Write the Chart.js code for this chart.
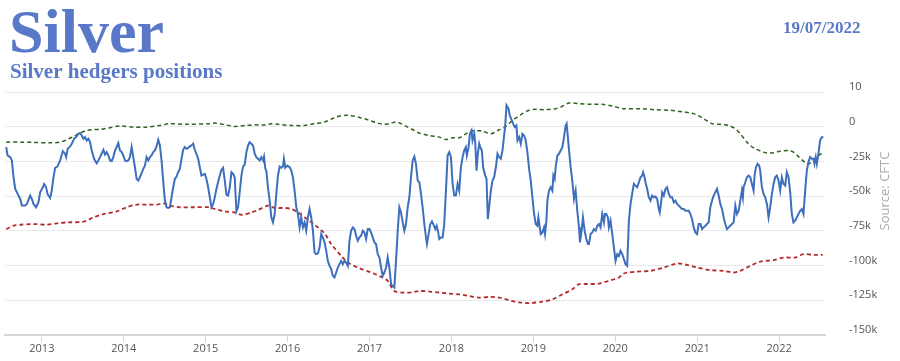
<!DOCTYPE html>
<html>
<head>
<meta charset="utf-8">
<script src="https://cdn.jsdelivr.net/npm/chart.js@4.4.1/dist/chart.umd.min.js"></script>
<style>
body{margin:0;background:#fff;}
</style>
</head>
<body>
<canvas id="myChart" width="900" height="361"></canvas>
<script>

// textos
var titulo = 'Silver';
var subtitulo = 'Silver hedgers positions';
var fecha = '19/07/2022';
var fuente = 'Source: CFTC';

// ejes
var anios = [2013,2014,2015,2016,2017,2018,2019,2020,2021,2022];
var yValores = [-150,-125,-100,-75,-50,-25,0,25];
var yEtiquetas = ['-150k','-125k','-100k','-75k','-50k','-25k','0','10'];

// posicion neta de hedgers (miles de contratos) [año decimal, valor]
var neto = [
[2012.565,-14.7],[2012.581,-20.7],[2012.614,-21.9],[2012.634,-24.3],[2012.654,-36.4],[2012.675,-44.8],[2012.715,-49.6],[2012.736,-52.0],[2012.756,-56.8],[2012.797,-56.8],[2012.817,-55.6],[2012.857,-49.6],[2012.878,-52.0],[2012.898,-55.6],[2012.930,-58.0],[2012.959,-54.4],[2012.979,-47.2],[2013.012,-43.6],[2013.028,-41.2],[2013.052,-43.6],[2013.069,-48.4],[2013.101,-51.3],[2013.121,-46.0],[2013.142,-36.4],[2013.162,-29.6],[2013.190,-28.7],[2013.223,-24.3],[2013.255,-17.6],[2013.284,-19.5],[2013.296,-21.9],[2013.316,-15.9],[2013.345,-14.2],[2013.365,-12.3],[2013.393,-8.7],[2013.418,-7.5],[2013.446,-5.1],[2013.466,-4.6],[2013.487,-6.3],[2013.507,-8.7],[2013.527,-7.5],[2013.548,-9.9],[2013.568,-8.7],[2013.588,-11.1],[2013.609,-17.1],[2013.637,-23.1],[2013.669,-26.3],[2013.690,-24.3],[2013.710,-21.9],[2013.730,-19.5],[2013.751,-16.6],[2013.771,-20.0],[2013.791,-18.3],[2013.812,-20.7],[2013.832,-24.3],[2013.852,-24.8],[2013.872,-21.9],[2013.893,-17.1],[2013.913,-14.7],[2013.933,-11.8],[2013.954,-17.1],[2013.974,-18.3],[2013.994,-20.7],[2014.015,-24.3],[2014.035,-24.8],[2014.055,-24.3],[2014.075,-21.9],[2014.096,-14.7],[2014.116,-21.9],[2014.136,-29.2],[2014.157,-37.6],[2014.177,-38.8],[2014.197,-36.4],[2014.218,-33.5],[2014.238,-30.4],[2014.258,-28.0],[2014.278,-21.9],[2014.299,-24.3],[2014.319,-21.9],[2014.339,-20.7],[2014.360,-18.3],[2014.380,-17.1],[2014.400,-14.2],[2014.421,-9.4],[2014.441,-13.5],[2014.461,-24.3],[2014.481,-38.8],[2014.502,-53.2],[2014.522,-58.0],[2014.542,-58.5],[2014.563,-58.0],[2014.583,-50.8],[2014.603,-43.6],[2014.624,-37.6],[2014.644,-35.9],[2014.664,-32.8],[2014.684,-30.4],[2014.705,-23.1],[2014.725,-16.6],[2014.745,-14.7],[2014.766,-15.9],[2014.786,-15.2],[2014.806,-14.2],[2014.827,-13.5],[2014.847,-12.3],[2014.867,-16.6],[2014.887,-19.5],[2014.908,-23.1],[2014.928,-29.2],[2014.948,-35.2],
[2014.989,-34.0],[2015.009,-37.6],[2015.030,-43.6],[2015.050,-50.8],[2015.070,-58.0],[2015.091,-55.6],[2015.111,-50.8],[2015.131,-44.8],[2015.151,-40.0],[2015.172,-35.2],[2015.192,-31.1],[2015.212,-29.6],[2015.233,-38.8],[2015.253,-48.9],[2015.273,-49.6],[2015.294,-43.6],[2015.314,-32.8],[2015.334,-34.0],[2015.354,-36.4],[2015.375,-60.9],[2015.395,-58.0],[2015.415,-47.2],[2015.436,-35.2],[2015.456,-28.7],[2015.476,-27.2],[2015.497,-18.3],[2015.517,-13.5],[2015.537,-11.1],[2015.557,-12.3],[2015.578,-13.5],[2015.598,-19.5],[2015.618,-21.9],[2015.639,-23.1],[2015.659,-24.3],[2015.679,-21.9],[2015.700,-24.3],[2015.712,-21.5],[2015.728,-30.4],[2015.740,-31.6],[2015.760,-43.6],[2015.781,-53.2],[2015.801,-65.3],[2015.821,-68.9],[2015.842,-62.9],[2015.862,-48.4],[2015.882,-35.2],[2015.903,-28.7],[2015.923,-29.6],[2015.943,-28.7],[2015.955,-23.1],[2015.972,-29.6],[2015.996,-28.0],[2016.024,-29.2],[2016.045,-31.6],[2016.065,-36.4],[2016.085,-46.0],[2016.106,-58.0],[2016.126,-62.9],[2016.146,-72.5],[2016.166,-65.3],[2016.187,-72.5],[2016.207,-68.9],[2016.227,-74.9],[2016.248,-65.3],[2016.268,-59.3],[2016.288,-65.3],[2016.309,-74.9],[2016.329,-90.6],[2016.349,-91.8],[2016.369,-91.3],[2016.390,-87.0],[2016.410,-77.3],[2016.430,-79.7],[2016.451,-83.3],[2016.471,-89.4],[2016.491,-96.6],[2016.512,-100.2],[2016.532,-102.6],[2016.552,-107.4],[2016.572,-108.6],[2016.593,-105.0],[2016.613,-101.4],[2016.633,-99.0],[2016.654,-96.6],[2016.674,-99.0],[2016.694,-96.6],[2016.715,-97.8],[2016.735,-100.2],[2016.755,-82.1],[2016.775,-74.9],[2016.796,-72.5],[2016.816,-73.7],[2016.836,-78.5],[2016.857,-82.1],[2016.877,-79.7],[2016.897,-78.5],[2016.918,-74.9],[2016.938,-76.1],[2016.958,-80.9],[2016.978,-73.7],[2016.999,-73.7],[2017.019,-76.1],[2017.039,-79.7],[2017.060,-83.3],[2017.080,-84.5],[2017.100,-91.8],[2017.121,-94.2],[2017.141,-101.4],[2017.161,-107.4],[2017.181,-105.0],[2017.202,-101.4],[2017.222,-94.2],[2017.242,-101.4],[2017.263,-113.4],[2017.283,-114.6],[2017.303,-115.8],[2017.323,-96.6],[2017.344,-74.9],[2017.364,-58.0],[2017.384,-61.7],[2017.405,-68.9],[2017.425,-74.9],[2017.445,-70.1],[2017.466,-58.0],
[2017.486,-50.8],[2017.506,-36.4],[2017.527,-24.3],[2017.547,-21.5],[2017.567,-26.7],[2017.588,-38.8],[2017.608,-40.0],[2017.628,-48.4],[2017.648,-58.0],[2017.669,-70.1],[2017.689,-79.7],[2017.701,-84.5],[2017.721,-77.3],[2017.742,-70.1],[2017.762,-68.2],[2017.778,-70.1],[2017.803,-73.7],[2017.819,-71.3],[2017.835,-74.9],[2017.851,-80.9],[2017.872,-79.7],[2017.892,-79.7],[2017.912,-70.1],[2017.933,-46.0],[2017.953,-20.7],[2017.973,-18.3],[2017.994,-21.9],[2018.014,-41.2],[2018.034,-49.6],[2018.054,-49.6],[2018.075,-41.2],[2018.095,-46.0],[2018.115,-29.2],[2018.136,-21.9],[2018.156,-17.1],[2018.176,-14.7],[2018.188,-20.7],[2018.209,-14.7],[2018.225,-5.1],[2018.245,-2.7],[2018.257,-9.9],[2018.278,-5.1],[2018.290,-11.1],[2018.306,-31.6],[2018.322,-19.5],[2018.339,-12.3],[2018.351,-14.7],[2018.371,-17.1],[2018.387,-29.2],[2018.412,-35.2],[2018.428,-37.6],[2018.444,-66.5],[2018.460,-58.0],[2018.481,-46.0],[2018.501,-38.8],[2018.521,-36.4],[2018.542,-29.2],[2018.562,-19.5],[2018.582,-21.9],[2018.603,-23.1],[2018.623,-17.1],[2018.643,-6.3],[2018.655,-0.3],[2018.672,15.4],[2018.696,13.0],[2018.712,8.2],[2018.737,4.6],[2018.753,2.2],[2018.773,-0.3],[2018.793,0.9],[2018.806,-9.9],[2018.826,-7.5],[2018.846,-12.3],[2018.866,-5.1],[2018.887,-6.3],[2018.907,-9.9],[2018.927,-18.3],[2018.948,-30.4],[2018.968,-38.8],[2018.988,-50.8],[2019.009,-62.9],[2019.029,-70.1],[2019.049,-71.3],[2019.061,-65.3],[2019.078,-72.5],[2019.090,-77.3],[2019.110,-76.1],[2019.130,-72.5],[2019.142,-77.3],[2019.159,-67.7],[2019.171,-53.2],[2019.191,-46.0],[2019.212,-43.6],[2019.232,-46.0],[2019.244,-35.2],[2019.260,-37.6],[2019.272,-29.2],[2019.293,-20.7],[2019.313,-19.5],[2019.333,-17.1],[2019.354,-14.7],[2019.374,-7.5],[2019.394,0.9],[2019.406,2.2],[2019.423,-8.7],[2019.443,-21.9],[2019.455,-29.2],[2019.475,-38.8],[2019.496,-52.0],[2019.516,-46.0],[2019.536,-60.5],[2019.557,-72.5],[2019.569,-83.3],[2019.589,-74.9],[2019.605,-65.3],[2019.626,-74.9],[2019.646,-80.9],[2019.666,-84.5],[2019.678,-84.5],[2019.699,-77.3],[2019.719,-76.1],[2019.739,-73.7],[2019.760,-74.9],[2019.780,-71.3],[2019.800,-70.1],[2019.820,-72.5],[2019.841,-62.9],[2019.861,-68.9],[2019.873,-62.9],[2019.889,-62.9],[2019.910,-65.3],[2019.922,-72.5],[2019.942,-67.7],[2019.963,-77.3],
[2019.983,-86.9],[2020.003,-96.6],[2020.024,-91.8],[2020.044,-93.0],[2020.064,-89.4],[2020.085,-91.8],[2020.105,-95.4],[2020.125,-99.0],[2020.145,-100.2],[2020.166,-67.7],[2020.186,-55.6],[2020.206,-48.4],[2020.227,-41.2],[2020.247,-42.4],[2020.267,-43.6],[2020.288,-40.0],[2020.308,-36.4],[2020.328,-35.2],[2020.340,-32.8],[2020.357,-36.4],[2020.369,-40.0],[2020.389,-44.8],[2020.409,-50.8],[2020.430,-53.2],[2020.450,-49.6],[2020.470,-50.8],[2020.491,-50.3],[2020.511,-52.0],[2020.531,-59.3],[2020.543,-61.7],[2020.560,-54.4],[2020.572,-47.2],[2020.592,-49.6],[2020.612,-44.8],[2020.633,-43.6],[2020.653,-48.4],[2020.673,-50.8],[2020.694,-50.8],[2020.714,-54.4],[2020.734,-53.2],[2020.754,-55.6],[2020.775,-56.8],[2020.795,-58.0],[2020.815,-59.3],[2020.836,-59.3],[2020.856,-60.5],[2020.876,-60.5],[2020.897,-60.5],[2020.917,-62.9],[2020.937,-66.5],[2020.957,-72.5],[2020.978,-76.1],[2020.998,-77.3],[2021.018,-70.1],[2021.039,-70.1],[2021.059,-73.7],[2021.079,-72.5],[2021.100,-71.3],[2021.120,-70.1],[2021.140,-68.9],[2021.160,-58.0],[2021.181,-53.2],[2021.201,-49.6],[2021.221,-47.2],[2021.242,-44.8],[2021.262,-49.6],[2021.282,-55.6],[2021.303,-59.3],[2021.323,-65.3],[2021.343,-70.1],[2021.363,-73.7],[2021.384,-72.5],[2021.404,-71.3],[2021.424,-70.1],[2021.445,-68.9],[2021.465,-56.8],[2021.485,-62.9],[2021.506,-60.5],[2021.526,-53.2],[2021.546,-46.0],[2021.558,-50.8],[2021.566,-43.6],[2021.587,-40.0],[2021.607,-36.4],[2021.627,-35.2],[2021.648,-36.4],[2021.668,-41.2],[2021.688,-46.0],[2021.700,-35.2],[2021.717,-29.2],[2021.737,-26.7],[2021.757,-28.0],[2021.769,-31.6],[2021.790,-43.6],[2021.810,-48.4],[2021.830,-50.8],[2021.851,-55.6],[2021.871,-65.3],[2021.891,-58.0],[2021.912,-48.4],[2021.932,-41.2],[2021.952,-36.4],[2021.972,-35.2],[2021.993,-38.8],[2022.013,-46.0],[2022.033,-36.4],[2022.054,-41.2],[2022.074,-42.4],[2022.094,-32.8],[2022.115,-36.4],[2022.135,-47.2],[2022.155,-62.9],[2022.175,-68.9],[2022.196,-67.7],[2022.216,-65.3],[2022.236,-62.9],[2022.257,-60.5],[2022.277,-59.3],[2022.297,-62.9],[2022.318,-46.0],[2022.338,-31.6],[2022.358,-25.5],[2022.378,-21.9],[2022.399,-23.1],[2022.419,-23.1],[2022.431,-26.7],[2022.447,-21.9],[2022.460,-26.7],[2022.480,-19.5],[2022.500,-9.9],[2022.520,-7.5],[2022.541,-7.5]
];

// banda superior (verde)
var maximo = [
[2012.565,-11.1],[2012.736,-11.1],[2012.898,-11.3],[2013.101,-11.6],[2013.223,-11.1],[2013.304,-9.4],[2013.385,-7.0],[2013.466,-4.6],[2013.548,-2.7],[2013.629,-2.0],[2013.710,-2.0],[2013.832,-0.7],[2013.954,0.5],[2014.116,-0.3],[2014.278,-0.3],[2014.441,0.9],[2014.563,2.2],[2014.766,1.7],[2015.050,2.2],
[2015.111,2.6],[2015.233,1.4],[2015.354,0.2],[2015.476,0.9],[2015.598,1.4],[2015.720,1.2],[2015.801,2.2],[2015.882,1.7],[2016.045,0.9],[2016.207,0.9],[2016.329,2.2],[2016.451,3.4],[2016.572,6.5],[2016.654,7.9],[2016.735,8.2],[2016.857,7.0],[2016.978,5.0],[2017.100,2.6],[2017.181,1.7],[2017.263,2.6],[2017.323,3.4],[2017.384,2.2],[2017.466,-0.3],[2017.547,-2.7],
[2017.608,-4.6],[2017.730,-6.3],[2017.851,-7.5],[2017.933,-9.2],[2018.014,-8.0],[2018.095,-8.0],[2018.176,-5.1],[2018.257,-3.1],[2018.379,-3.1],[2018.481,-5.1],[2018.582,-2.2],[2018.663,0.2],[2018.745,4.6],[2018.866,9.4],[2018.948,11.8],[2019.029,12.5],[2019.151,12.3],[2019.272,13.0],[2019.354,14.7],[2019.435,17.1],[2019.557,16.6],[2019.719,16.1],[2019.841,16.1],[2019.963,14.9],
[2020.105,13.0],[2020.308,13.0],[2020.470,12.3],[2020.673,11.8],[2020.836,10.6],[2020.957,9.4],[2021.079,5.8],[2021.181,2.2],[2021.282,1.7],[2021.384,0.9],[2021.465,-1.5],[2021.526,-5.1],[2021.607,-11.1],[2021.688,-15.2],[2021.810,-18.3],[2021.891,-19.0],[2022.013,-17.6],[2022.115,-17.1],[2022.175,-18.3],[2022.236,-21.5],[2022.297,-24.8],[2022.338,-26.7],[2022.378,-26.3],[2022.419,-24.3],[2022.480,-20.7],[2022.533,-19.0]
];

// banda inferior (roja)
var minimo = [
[2012.565,-73.7],[2012.654,-71.3],[2012.736,-70.6],[2012.898,-70.1],[2013.060,-70.6],[2013.182,-69.6],[2013.304,-68.9],[2013.507,-68.4],[2013.629,-65.3],[2013.751,-62.9],[2013.913,-61.0],[2014.035,-58.0],[2014.157,-56.1],[2014.278,-56.1],[2014.400,-56.1],[2014.481,-55.2],[2014.563,-56.8],[2014.684,-58.0],[2014.847,-58.0],[2015.050,-58.0],
[2015.111,-59.3],[2015.233,-61.0],[2015.354,-61.7],[2015.436,-63.4],[2015.557,-61.7],[2015.639,-60.0],[2015.760,-56.8],[2015.842,-58.5],[2015.963,-58.5],[2016.045,-59.3],[2016.126,-61.7],[2016.207,-65.3],[2016.329,-70.6],[2016.451,-76.8],[2016.532,-84.5],[2016.654,-93.0],[2016.735,-97.8],[2016.857,-101.4],[2017.019,-105.0],[2017.141,-108.1],[2017.222,-111.0],[2017.303,-118.3],[2017.425,-119.5],[2017.547,-119.0],
[2017.608,-118.3],[2017.730,-118.7],[2017.851,-119.5],[2017.973,-120.2],[2018.095,-120.7],[2018.217,-121.9],[2018.339,-123.1],[2018.460,-122.6],[2018.582,-123.1],[2018.704,-125.0],[2018.826,-126.5],[2018.948,-127.0],[2019.110,-126.0],[2019.232,-124.3],[2019.354,-120.7],[2019.475,-117.1],[2019.557,-113.4],[2019.678,-113.4],[2019.800,-113.0],[2019.922,-111.0],[2020.044,-108.6],
[2020.105,-105.7],[2020.267,-104.3],[2020.430,-103.8],[2020.592,-101.4],[2020.754,-98.5],[2020.876,-99.5],[2020.998,-101.4],[2021.160,-103.3],[2021.323,-103.8],[2021.445,-105.0],[2021.526,-103.8],[2021.648,-100.2],[2021.770,-97.1],[2021.932,-96.1],[2022.054,-94.2],[2022.196,-94.2],[2022.297,-91.8],[2022.419,-92.3],[2022.533,-92.3]
];

function puntos(lista){
    return lista.map(function(p){
        return {x:p[0], y:p[1]};
    });
}

var azul = '#5a78c8';

// titulos y fuente dibujados a mano
var textos = {
    id:'textos',
    afterDraw: function(chart){
        var c = chart.ctx;
        c.save();
        c.fillStyle = azul;
        c.textBaseline = 'alphabetic';
        c.textAlign = 'left';
        c.font = 'bold 62px "Liberation Serif"';
        c.fillText(titulo, 9, 52);
        c.font = 'bold 21px "Liberation Serif"';
        c.fillText(subtitulo, 10, 78);
        c.font = 'bold 17px "Liberation Serif"';
        c.fillText(fecha, 783, 33);

        c.translate(885, 191);
        c.rotate(-Math.PI/2);
        c.textAlign = 'center';
        c.textBaseline = 'middle';
        c.fillStyle = '#aaaaaa';
        c.font = '13px "Open Sans"';
        c.fillText(fuente, 0, 0);
        c.restore();
    }
};

var ctx = document.getElementById('myChart');
var chart = new Chart(ctx, {
    type: 'line',
    data: {
        datasets: [{
            label: 'Hedgers',
            data: puntos(neto),
            borderColor: '#3d6fbd',
            borderWidth: 2,
            pointRadius: 0,
            tension: 0
        },{
            label: 'Max',
            data: puntos(maximo),
            borderColor: '#2f6320',
            borderWidth: 1.5,
            borderDash: [4,3],
            pointRadius: 0,
            tension: 0.3
        },{
            label: 'Min',
            data: puntos(minimo),
            borderColor: '#b3282a',
            borderWidth: 1.8,
            borderDash: [4,3],
            pointRadius: 0,
            tension: 0.3
        }]
    },
    options: {
        responsive: false,
        animation: false,
        devicePixelRatio: 1,
        layout: { padding: { top: 92, left: 5, right: 0, bottom: 0 } },
        plugins: {
            legend: { display: false },
            tooltip: { enabled: false }
        },
        scales: {
            x: {
                type: 'linear',
                min: 2012.55,
                max: 2022.56,
                afterBuildTicks: function(axis){
                    axis.ticks = anios.map(function(v){ return {value:v}; });
                },
                afterFit: function(axis){ axis.height = 26; },
                grid: { drawOnChartArea: false, drawTicks: true, tickLength: 7, color: '#d6d6d6' },
                border: { display: true, color: '#d6d6d6', width: 2 },
                ticks: {
                    padding: 0,
                    maxRotation: 0,
                    color: '#555',
                    font: { family: 'Open Sans', size: 11 },
                    callback: function(v){ return String(v); }
                }
            },
            y: {
                position: 'right',
                min: -150,
                max: 25,
                afterBuildTicks: function(axis){
                    axis.ticks = yValores.map(function(v){ return {value:v}; });
                },
                afterFit: function(axis){ axis.width = 75; },
                grid: { color: '#e9e9e9', drawTicks: true, tickLength: 24, tickColor: 'rgba(0,0,0,0)' },
                border: { display: false },
                ticks: {
                    padding: 0,
                    labelOffset: -5,
                    color: '#555',
                    font: { family: 'Open Sans', size: 11 },
                    callback: function(v){ return yEtiquetas[yValores.indexOf(v)]; }
                }
            }
        }
    },
    plugins: [textos]
});

</script>
</body>
</html>
